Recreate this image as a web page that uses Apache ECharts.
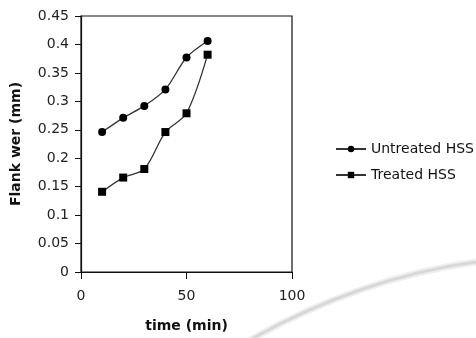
<!DOCTYPE html>
<html><head><meta charset="utf-8">
<script src="https://cdn.jsdelivr.net/npm/echarts@6/dist/echarts.min.js"></script>
<style>html,body{margin:0;padding:0;background:#fff}#c{width:476px;height:338px}</style>
</head><body><div id="c"></div>
<script>
const times = [10, 20, 30, 40, 50, 60];
const untreated = [0.246, 0.271, 0.292, 0.321, 0.377, 0.406];
const treated = [0.141, 0.166, 0.181, 0.246, 0.279, 0.382];
const seriesNames = ['Untreated HSS', 'Treated HSS'];
const xTitle = 'time (min)';
const yTitle = 'Flank wer (mm)';

const chart = echarts.init(document.getElementById('c'), null, {renderer: 'canvas'});
const font = '"DejaVu Sans", sans-serif';
chart.setOption({
  animation: false,
  textStyle: {fontFamily: font},
  grid: {left: 81, right: 184, top: 16, bottom: 65, show: true, borderColor: '#111', borderWidth: 1.2},
  xAxis: {
    type: 'value', min: 0, max: 100, interval: 50,
    name: xTitle, nameLocation: 'middle', nameGap: 47,
    nameTextStyle: {fontWeight: 'bold', fontSize: 14, color: '#111', fontFamily: font},
    axisLine: {lineStyle: {color: '#111', width: 1.2}},
    axisTick: {show: true, length: 7, lineStyle: {color: '#111'}},
    axisLabel: {fontSize: 14, color: '#222', margin: 17, fontFamily: font},
    splitLine: {show: false}
  },
  yAxis: {
    type: 'value', min: 0, max: 0.45, interval: 0.05,
    name: yTitle, nameLocation: 'middle', nameGap: 58, nameRotate: 90,
    nameTextStyle: {fontWeight: 'bold', fontSize: 14, color: '#111', fontFamily: font},
    axisLine: {show: true, lineStyle: {color: '#111', width: 1.2}},
    axisTick: {show: true, length: 6, lineStyle: {color: '#111'}},
    axisLabel: {fontSize: 14, color: '#222', margin: 12, fontFamily: font, formatter: v => String(+v.toFixed(2))},
    splitLine: {show: false}
  },
  legend: {
    orient: 'vertical', left: 330, top: 136, itemGap: 10,
    itemWidth: 30, itemHeight: 8,
    textStyle: {fontSize: 14, color: '#111', fontFamily: font, lineHeight: 16},
    data: seriesNames
  },
  graphic: [
    {type: 'bezierCurve', silent: true, z: -1,
     shape: {x1: 250, y1: 340, x2: 476, y2: 262, cpx1: 320, cpy1: 300, cpx2: 400, cpy2: 272},
     style: {stroke: '#efefef', lineWidth: 7, fill: null}},
    {type: 'bezierCurve', silent: true, z: -1,
     shape: {x1: 250, y1: 340, x2: 476, y2: 262, cpx1: 320, cpy1: 300, cpx2: 400, cpy2: 272},
     style: {stroke: '#d8d8d8', lineWidth: 3, fill: null}}
  ],
  series: [
    {name: seriesNames[0], type: 'line', smooth: 0.3, data: times.map((t, i) => [t, untreated[i]]),
     symbol: 'circle', symbolSize: 8, itemStyle: {color: '#000'}, lineStyle: {color: '#333', width: 1.3}},
    {name: seriesNames[1], type: 'line', smooth: 0.3, data: times.map((t, i) => [t, treated[i]]),
     symbol: 'rect', symbolSize: 8, itemStyle: {color: '#000'}, lineStyle: {color: '#333', width: 1.3}}
  ]
});
</script></body></html>
